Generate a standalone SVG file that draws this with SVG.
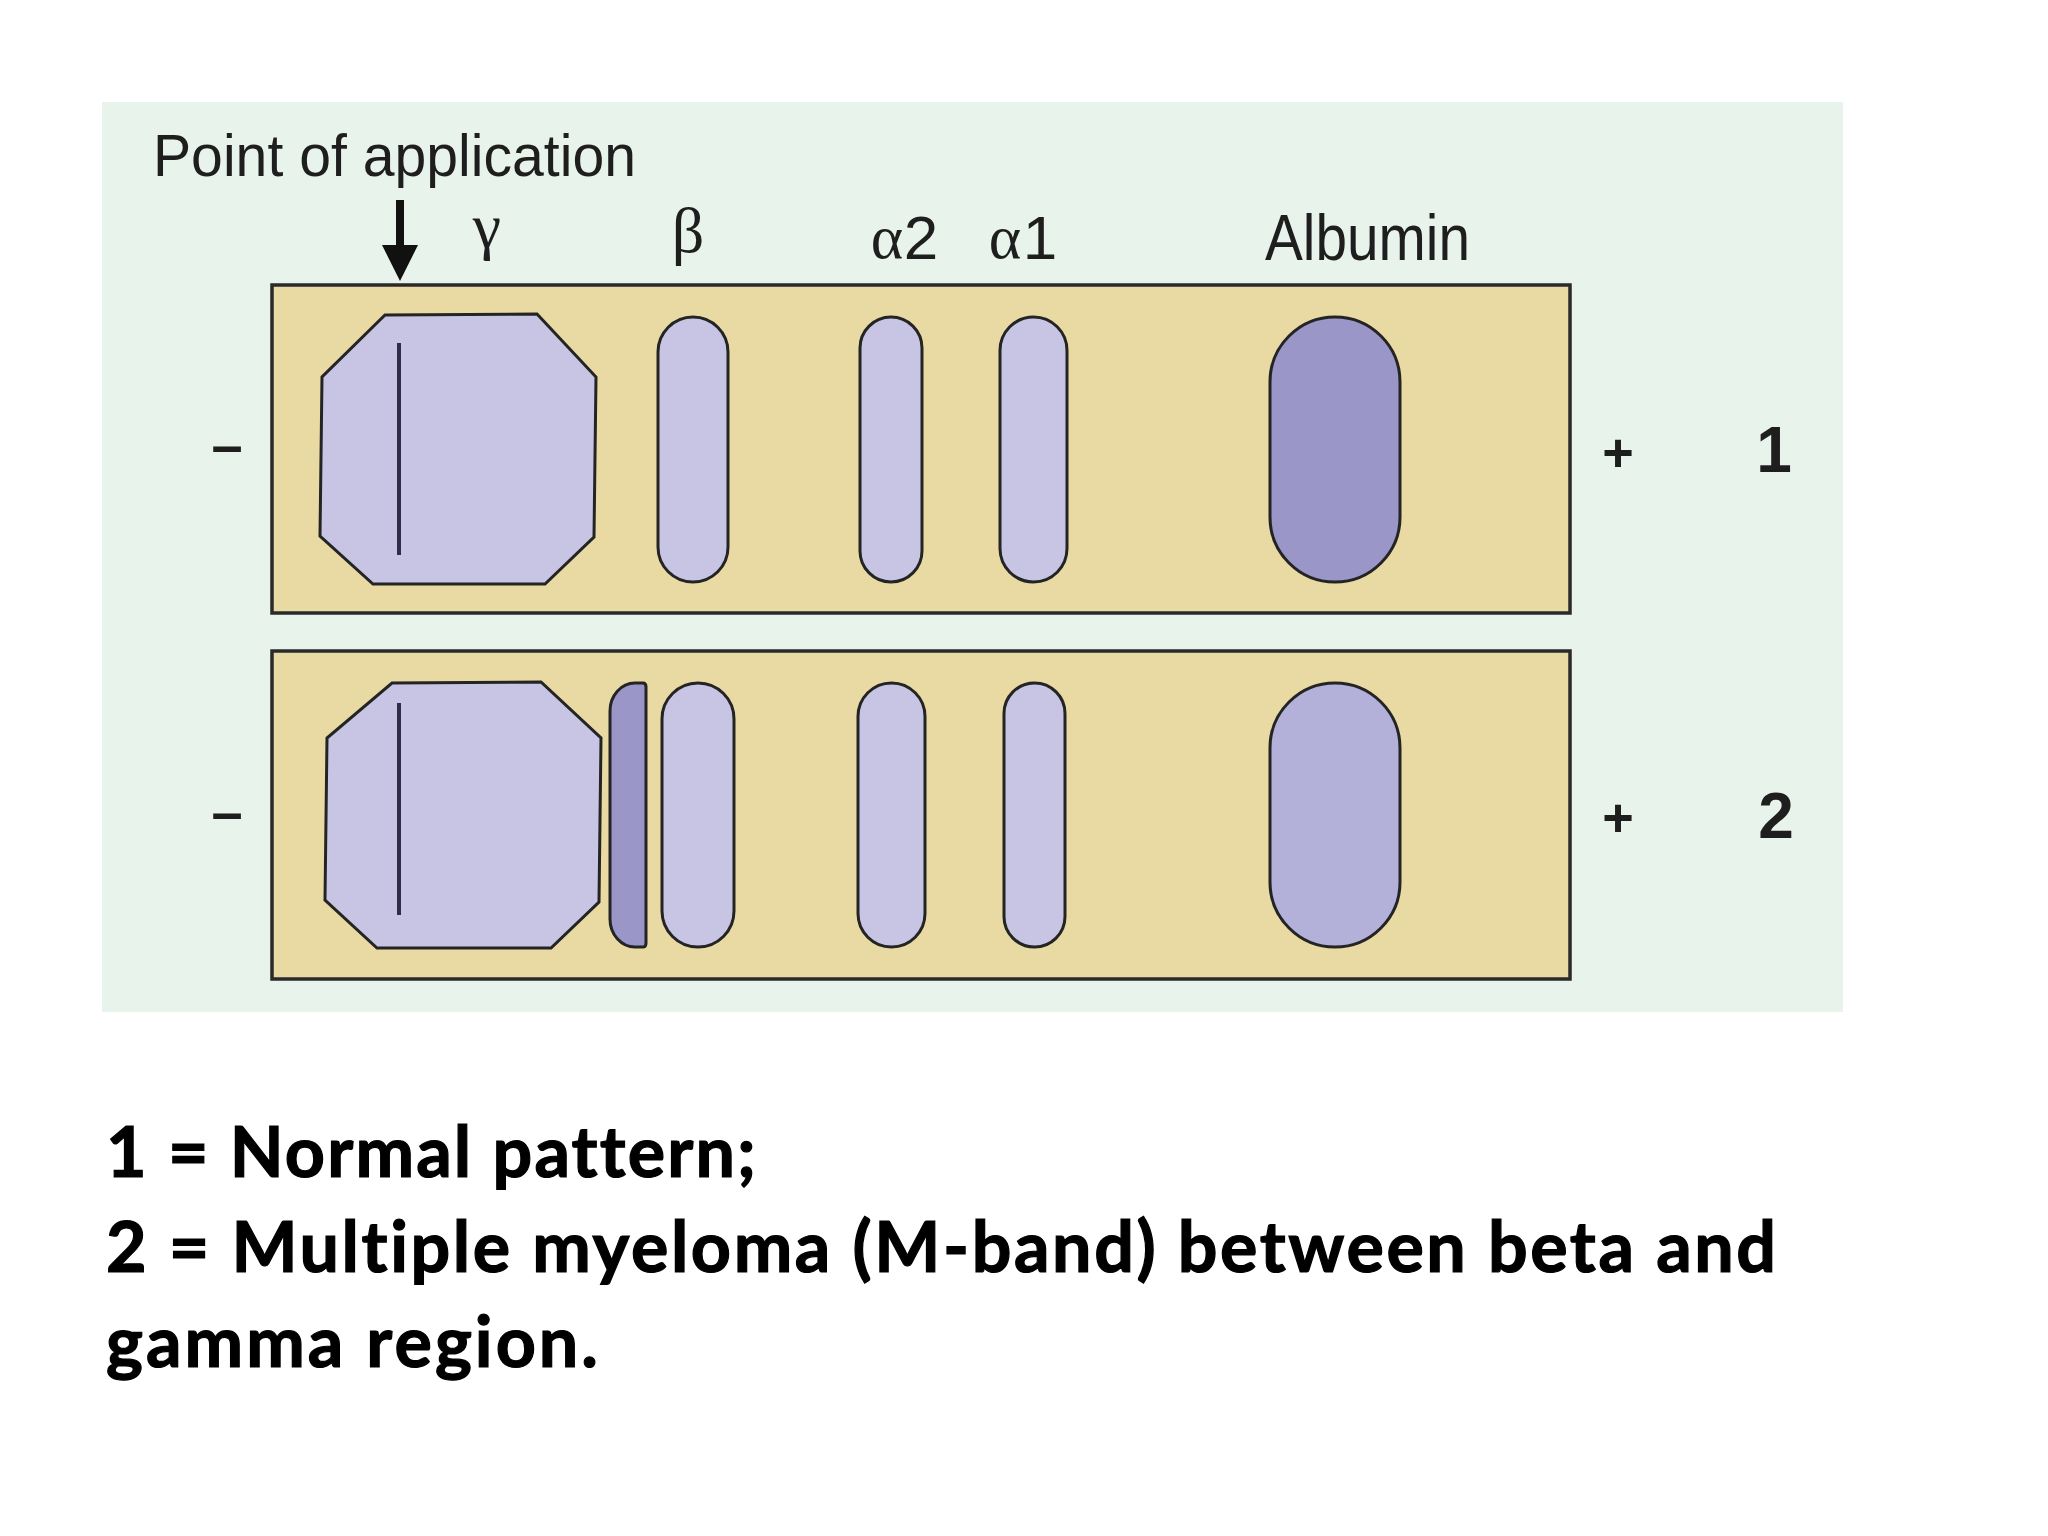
<svg xmlns="http://www.w3.org/2000/svg" width="2048" height="1536" viewBox="0 0 2048 1536">
  <style>
    .strip { fill: #e9daa4; stroke: #2a2a2a; stroke-width: 3.5; }
    .band { fill: #c7c5e3; stroke: #242424; stroke-width: 3; }
    .dark { fill: #9b96c8; stroke: #242424; stroke-width: 3; }
    .mid { fill: #b3b1d9; stroke: #242424; stroke-width: 3; }
    .inner { stroke: #2d2d48; stroke-width: 4; fill: none; }
    .sans { font-family: "Liberation Sans", Arial, sans-serif; fill: #1e1e1e; }
    .sign { font-family: "Liberation Sans", Arial, sans-serif; font-weight: bold; fill: #1e1e1e; }
    .greek { font-family: "Liberation Serif", "Times New Roman", serif; fill: #1e1e1e; }
    .num { font-family: "Liberation Sans", Arial, sans-serif; font-weight: bold; fill: #1e1e1e; }
    .caption { font-family: Lato, "Open Sans", sans-serif; font-weight: bold; font-size: 70px; fill: #000; stroke: #000; stroke-width: 1.2; font-variant-ligatures: none; }
  </style>

  <rect x="0" y="0" width="2048" height="1536" fill="#ffffff"/>
  <rect id="panel" x="102" y="102" width="1741" height="910" fill="#e7f3eb"/>

  <g id="labels">
    <text class="sans" x="153" y="176" font-size="60" textLength="483" lengthAdjust="spacingAndGlyphs">Point of application</text>
    <text class="greek" x="487" y="247" font-size="64" text-anchor="middle">γ</text>
    <text class="greek" x="688" y="252" font-size="64" text-anchor="middle">β</text>
    <text font-size="62"><tspan class="greek" x="887" y="258" text-anchor="middle">α</tspan><tspan class="sans" x="921" y="259" text-anchor="middle">2</tspan></text>
    <text font-size="62"><tspan class="greek" x="1005" y="258" text-anchor="middle">α</tspan><tspan class="sans" x="1040" y="259" text-anchor="middle">1</tspan></text>
    <text class="sans" x="1265" y="260" font-size="64" textLength="205" lengthAdjust="spacingAndGlyphs">Albumin</text>
  </g>

  <g id="connectors">
    <rect x="396" y="200" width="8" height="47" fill="#111"/>
    <polygon points="382,245 418,245 400,281" fill="#111"/>
  </g>

  <g id="strip1">
    <rect class="strip" x="272" y="285" width="1298" height="328"/>
    <polygon class="band" points="385,315 537,314 596,377 594,537 545,584 373,584 320,536 322,377"/>
    <line class="inner" x1="399" y1="343" x2="399" y2="555"/>
    <rect class="band" x="658" y="317" width="70" height="265" rx="35" ry="35"/>
    <rect class="band" x="860" y="317" width="62" height="265" rx="31" ry="31"/>
    <rect class="band" x="1000" y="317" width="67" height="265" rx="33.5" ry="33.5"/>
    <rect class="dark" x="1270" y="317" width="130" height="265" rx="65" ry="65"/>
    <text class="sign" x="227" y="464" font-size="56" text-anchor="middle">–</text>
    <text class="sign" x="1618" y="471" font-size="54" text-anchor="middle">+</text>
    <text class="num" x="1774" y="472" font-size="64" text-anchor="middle">1</text>
  </g>

  <g id="strip2">
    <rect class="strip" x="272" y="651" width="1298" height="328"/>
    <polygon class="band" points="392,683 541,682 601,738 599,902 551,948 377,948 325,900 327,738"/>
    <line class="inner" x1="399" y1="703" x2="399" y2="915"/>
    <path class="dark" d="M635 683 L643 683 Q646 683 646 687 L646 943 Q646 947 643 947 L635 947 A25 28 0 0 1 610 919 L610 711 A25 28 0 0 1 635 683 Z"/>
    <rect class="band" x="662" y="683" width="72" height="264" rx="36" ry="36"/>
    <rect class="band" x="858" y="683" width="67" height="264" rx="33.5" ry="33.5"/>
    <rect class="band" x="1004" y="683" width="61" height="264" rx="30.5" ry="30.5"/>
    <rect class="mid" x="1270" y="683" width="130" height="264" rx="65" ry="65"/>
    <text class="sign" x="227" y="831" font-size="56" text-anchor="middle">–</text>
    <text class="sign" x="1618" y="836" font-size="54" text-anchor="middle">+</text>
    <text class="num" x="1776" y="838" font-size="64" text-anchor="middle">2</text>
  </g>

  <g id="caption">
    <text class="caption" x="106" y="1177" textLength="650">1 = Normal pattern;</text>
    <text class="caption" x="106" y="1272" textLength="1670">2 = Multiple myeloma (M-band) between beta and</text>
    <text class="caption" x="106" y="1367" textLength="492">gamma region.</text>
  </g>
</svg>
